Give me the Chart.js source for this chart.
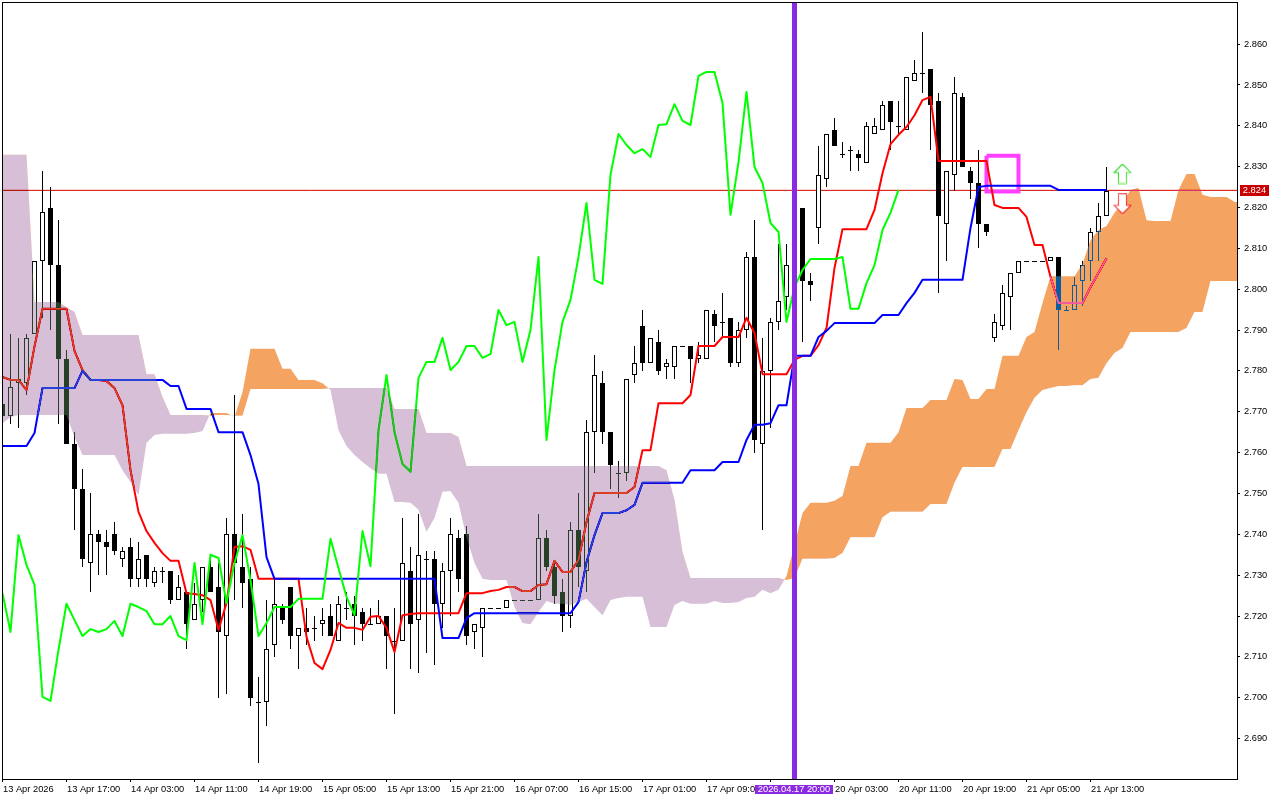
<!DOCTYPE html>
<html>
<head>
<meta charset="utf-8">
<title>Ichimoku chart</title>
<script src="https://cdn.jsdelivr.net/npm/chart.js@4"></script>
<style>
  html, body { margin: 0; padding: 0; background: #fff; }
  canvas { display: block; }
</style>
</head>
<body>
<canvas id="myChart" width="1280" height="800"></canvas>
<script>
const openVals = [
  2.772,2.769,2.777,2.777,2.789,2.807,2.820,2.806,2.783,2.762,
  2.751,2.733,2.740,2.738,2.740,2.734,2.737,2.729,2.735,2.728,
  2.731,2.731,2.724,2.726,2.719,2.724,2.732,2.727,2.715,2.740,
  2.732,2.729,2.699,2.699,2.713,2.722,2.727,2.715,2.717,2.717,
  2.718,2.720,2.714,2.722,2.723,2.721,2.718,2.718,2.720,2.714,
  2.714,2.731,2.719,2.734,2.734,2.723,2.731,2.739,2.740,2.716,
  2.717,2.722,2.722,2.722,2.724,2.724,2.724,2.724,2.739,2.732,
  2.726,2.720,2.741,2.731,2.765,2.777,2.765,2.755,2.755,2.779,
  2.791,2.782,2.787,2.781,2.781,2.786,2.786,2.783,2.783,2.794,
  2.792,2.793,2.782,2.790,2.808,2.762,2.780,2.792,2.798,2.806,
  2.820,2.802,2.815,2.827,2.839,2.833,2.834,2.833,2.831,2.838,
  2.839,2.846,2.840,2.839,2.851,2.853,2.854,2.846,2.816,2.828,
  2.847,2.829,2.826,2.816,2.788,2.791,2.798,2.804,2.807,2.807,
  2.807,2.807,2.808,2.795,2.795,2.802,2.807,2.814,2.818
];
const highVals = [
  2.774,2.789,2.788,2.789,2.807,2.829,2.825,2.817,2.785,2.765,
  2.756,2.750,2.741,2.741,2.743,2.737,2.739,2.738,2.735,2.732,
  2.732,2.731,2.730,2.726,2.728,2.732,2.735,2.733,2.744,2.774,
  2.745,2.732,2.705,2.724,2.729,2.723,2.727,2.717,2.722,2.720,
  2.722,2.723,2.725,2.726,2.725,2.722,2.722,2.724,2.720,2.722,
  2.744,2.737,2.745,2.736,2.736,2.733,2.744,2.741,2.742,2.718,
  2.722,2.722,2.722,2.724,2.724,2.724,2.724,2.745,2.741,2.733,
  2.729,2.743,2.750,2.768,2.784,2.780,2.765,2.758,2.778,2.786,
  2.795,2.788,2.790,2.783,2.786,2.786,2.786,2.787,2.795,2.795,
  2.799,2.793,2.792,2.809,2.817,2.788,2.793,2.811,2.811,2.820,
  2.820,2.804,2.835,2.838,2.842,2.836,2.835,2.834,2.841,2.842,
  2.846,2.846,2.846,2.852,2.856,2.863,2.854,2.848,2.829,2.852,
  2.848,2.830,2.834,2.816,2.794,2.801,2.804,2.807,2.807,2.807,
  2.807,2.808,2.808,2.796,2.803,2.807,2.815,2.821,2.830
];
const lowVals = [
  2.767,2.767,2.766,2.774,2.789,2.793,2.790,2.767,2.762,2.741,
  2.732,2.726,2.730,2.730,2.735,2.732,2.727,2.727,2.727,2.727,
  2.728,2.723,2.724,2.712,2.719,2.721,2.726,2.700,2.701,2.724,
  2.722,2.698,2.684,2.693,2.710,2.718,2.712,2.707,2.713,2.714,
  2.715,2.715,2.714,2.719,2.713,2.714,2.718,2.718,2.707,2.696,
  2.714,2.707,2.706,2.711,2.708,2.717,2.720,2.726,2.713,2.712,
  2.710,2.722,2.722,2.722,2.724,2.724,2.724,2.724,2.731,2.723,
  2.716,2.717,2.727,2.726,2.755,2.762,2.751,2.749,2.753,2.777,
  2.780,2.782,2.779,2.778,2.778,2.786,2.777,2.782,2.783,2.787,
  2.788,2.781,2.781,2.788,2.760,2.741,2.766,2.790,2.795,2.795,
  2.787,2.797,2.811,2.825,2.835,2.832,2.829,2.829,2.831,2.838,
  2.839,2.834,2.838,2.839,2.851,2.848,2.834,2.799,2.807,2.824,
  2.830,2.822,2.810,2.813,2.787,2.790,2.790,2.804,2.807,2.807,
  2.807,2.807,2.785,2.795,2.795,2.796,2.802,2.807,2.818
];
const closeVals = [
  2.769,2.776,2.778,2.788,2.807,2.819,2.806,2.783,2.762,2.751,
  2.734,2.740,2.738,2.737,2.736,2.736,2.729,2.734,2.729,2.731,
  2.731,2.724,2.727,2.718,2.723,2.732,2.726,2.716,2.740,2.733,
  2.728,2.700,2.699,2.712,2.723,2.719,2.715,2.717,2.716,2.717,
  2.719,2.715,2.723,2.722,2.720,2.718,2.718,2.720,2.715,2.714,
  2.733,2.718,2.735,2.734,2.723,2.731,2.740,2.729,2.715,2.718,
  2.722,2.722,2.722,2.724,2.724,2.724,2.724,2.739,2.732,2.725,
  2.720,2.741,2.732,2.765,2.779,2.765,2.757,2.755,2.778,2.782,
  2.782,2.788,2.780,2.782,2.786,2.786,2.783,2.784,2.795,2.791,
  2.792,2.782,2.790,2.808,2.763,2.780,2.792,2.797,2.806,2.806,
  2.802,2.801,2.828,2.838,2.835,2.833,2.834,2.832,2.840,2.840,
  2.845,2.841,2.840,2.852,2.853,2.853,2.845,2.818,2.829,2.848,
  2.830,2.826,2.816,2.814,2.792,2.799,2.804,2.807,2.807,2.807,
  2.807,2.808,2.795,2.795,2.801,2.806,2.814,2.818,2.824
];

const tenkan = [
  2.7785,2.7778,2.7778,2.7753,2.7860,2.7952,2.7952,2.7952,2.7952,2.7849,
  2.7802,2.7778,2.7778,2.7775,2.7758,2.7716,2.7557,2.7455,2.7408,2.7379,
  2.7354,2.7335,2.7335,2.7256,2.7254,2.7251,2.7239,2.7166,2.7232,2.7369,
  2.7371,2.7362,2.7291,2.7291,2.7291,2.7291,2.7291,2.7291,2.7149,2.7085,
  2.7070,2.7117,2.7183,2.7171,2.7171,2.7166,2.7198,2.7200,2.7171,2.7112,
  2.7202,2.7205,2.7207,2.7207,2.7207,2.7207,2.7207,2.7207,2.7256,2.7256,
  2.7256,2.7261,2.7264,2.7271,2.7271,2.7261,2.7261,2.7276,2.7278,2.7335,
  2.7308,2.7308,2.7337,2.7430,2.7501,2.7501,2.7501,2.7501,2.7501,2.7516,
  2.7606,2.7606,2.7721,2.7721,2.7721,2.7721,2.7741,2.7861,2.7861,2.7861,
  2.7883,2.7883,2.7883,2.7930,2.7893,2.7792,2.7792,2.7792,2.7792,2.7827,
  2.7837,2.7837,2.7863,2.7905,2.8052,2.8147,2.8147,2.8147,2.8147,2.8194,
  2.8284,2.8355,2.8378,2.8397,2.8426,2.8463,2.8471,2.8314,2.8314,2.8314,
  2.8314,2.8314,2.8314,2.8314,2.8206,2.8199,2.8199,2.8199,2.8177,2.8108,
  2.8108,2.8030,2.7966,2.7966,2.7966,2.7966,2.8005,2.8040,2.8076
];
const kijun = [
  2.7616,2.7616,2.7616,2.7616,2.7648,2.7758,2.7758,2.7758,2.7758,2.7758,
  2.7800,2.7778,2.7778,2.7778,2.7778,2.7778,2.7778,2.7778,2.7778,2.7778,
  2.7778,2.7763,2.7763,2.7707,2.7707,2.7707,2.7707,2.7650,2.7650,2.7650,
  2.7650,2.7594,2.7523,2.7344,2.7291,2.7291,2.7291,2.7291,2.7291,2.7291,
  2.7291,2.7291,2.7291,2.7291,2.7291,2.7291,2.7291,2.7291,2.7291,2.7291,
  2.7291,2.7291,2.7291,2.7291,2.7291,2.7146,2.7146,2.7146,2.7195,2.7207,
  2.7207,2.7207,2.7207,2.7207,2.7207,2.7207,2.7207,2.7207,2.7207,2.7207,
  2.7207,2.7207,2.7234,2.7332,2.7398,2.7452,2.7452,2.7452,2.7459,2.7472,
  2.7526,2.7526,2.7526,2.7526,2.7526,2.7526,2.7557,2.7557,2.7557,2.7557,
  2.7577,2.7577,2.7577,2.7631,2.7668,2.7668,2.7672,2.7716,2.7716,2.7837,
  2.7837,2.7837,2.7883,2.7898,2.7917,2.7917,2.7917,2.7917,2.7917,2.7917,
  2.7937,2.7937,2.7937,2.7966,2.7991,2.8023,2.8023,2.8023,2.8023,2.8023,
  2.8023,2.8150,2.8250,2.8253,2.8253,2.8253,2.8253,2.8253,2.8253,2.8253,
  2.8253,2.8253,2.8243,2.8243,2.8243,2.8243,2.8243,2.8243,2.8243
];
const chikou = [
  2.7256,2.7161,2.7398,2.7325,2.7276,2.7002,2.6992,2.7117,2.7230,2.7190,
  2.7151,2.7168,2.7161,2.7168,2.7188,2.7151,2.7230,2.7222,2.7212,2.7180,
  2.7180,2.7200,2.7151,2.7141,2.7330,2.7180,2.7350,2.7342,2.7232,2.7330,
  2.7398,2.7288,2.7151,2.7183,2.7222,2.7222,2.7222,2.7242,2.7242,2.7242,
  2.7242,2.7389,2.7317,2.7247,2.7202,2.7408,2.7322,2.7655,2.7790,2.7650,
  2.7572,2.7553,2.7783,2.7822,2.7822,2.7881,2.7802,2.7822,2.7861,2.7861,
  2.7832,2.7841,2.7949,2.7912,2.7920,2.7822,2.7900,2.8079,2.7631,2.7802,
  2.7920,2.7974,2.8079,2.8211,2.8023,2.8013,2.8280,2.8380,2.8353,2.8333,
  2.8343,2.8324,2.8402,2.8404,2.8453,2.8412,2.8402,2.8522,2.8532,2.8532,
  2.8456,2.8182,2.8311,2.8483,2.8299,2.8260,2.8162,2.8140,2.7920,2.8005,
  2.8047,2.8074,2.8074,2.8074,2.8074,2.8079,2.7952,2.7952,2.8015,2.8059,
  2.8145,2.8187,2.8243
];
const spanA = [
  2.7672,2.7687,2.7692,2.7692,2.7692,2.7692,2.7692,2.7692,2.7692,2.7638,
  2.7594,2.7594,2.7594,2.7594,2.7594,2.7557,2.7528,2.7496,2.7624,2.7643,
  2.7646,2.7646,2.7646,2.7646,2.7648,2.7653,2.7697,2.7697,2.7697,2.7687,
  2.7748,2.7854,2.7854,2.7854,2.7854,2.7805,2.7805,2.7778,2.7778,2.7778,
  2.7770,2.7753,2.7655,2.7616,2.7594,2.7577,2.7562,2.7548,2.7548,2.7479,
  2.7479,2.7477,2.7460,2.7406,2.7440,2.7504,2.7506,2.7477,2.7393,2.7330,
  2.7291,2.7288,2.7288,2.7288,2.7222,2.7183,2.7180,2.7210,2.7237,2.7230,
  2.7230,2.7227,2.7234,2.7242,2.7222,2.7202,2.7239,2.7244,2.7247,2.7247,
  2.7247,2.7173,2.7173,2.7173,2.7227,2.7237,2.7230,2.7230,2.7230,2.7237,
  2.7232,2.7232,2.7234,2.7244,2.7247,2.7264,2.7256,2.7264,2.7298,2.7374,
  2.7452,2.7477,2.7477,2.7477,2.7482,2.7494,2.7567,2.7567,2.7624,2.7624,
  2.7624,2.7624,2.7650,2.7709,2.7709,2.7709,2.7729,2.7729,2.7729,2.7780,
  2.7778,2.7731,2.7731,2.7756,2.7756,2.7837,2.7837,2.7837,2.7883,2.7895,
  2.7966,2.8032,2.8032,2.8032,2.8032,2.8062,2.8120,2.8145,2.8155,2.8187,
  2.8211,2.8243,2.8248,2.8169,2.8167,2.8167,2.8167,2.8243,2.8282,2.8282,
  2.8231,2.8226,2.8226,2.8226,2.8214,2.8211
];
const spanB = [
  2.8329,2.8329,2.8329,2.8329,2.7969,2.7969,2.7969,2.7969,2.7956,2.7944,
  2.7888,2.7888,2.7888,2.7888,2.7888,2.7888,2.7888,2.7888,2.7792,2.7792,
  2.7736,2.7692,2.7692,2.7692,2.7692,2.7692,2.7690,2.7692,2.7692,2.7690,
  2.7690,2.7756,2.7756,2.7756,2.7756,2.7756,2.7756,2.7756,2.7756,2.7756,
  2.7756,2.7758,2.7758,2.7758,2.7758,2.7758,2.7758,2.7758,2.7758,2.7707,
  2.7707,2.7707,2.7707,2.7648,2.7648,2.7648,2.7648,2.7638,2.7567,2.7567,
  2.7567,2.7567,2.7567,2.7567,2.7567,2.7567,2.7567,2.7567,2.7567,2.7567,
  2.7567,2.7567,2.7567,2.7567,2.7567,2.7567,2.7567,2.7567,2.7567,2.7567,
  2.7567,2.7567,2.7567,2.7557,2.7484,2.7357,2.7293,2.7293,2.7293,2.7293,
  2.7293,2.7293,2.7293,2.7293,2.7293,2.7293,2.7293,2.7293,2.7288,2.7293,
  2.7340,2.7340,2.7340,2.7340,2.7342,2.7354,2.7393,2.7393,2.7393,2.7393,
  2.7442,2.7455,2.7455,2.7455,2.7455,2.7455,2.7474,2.7474,2.7474,2.7526,
  2.7565,2.7565,2.7565,2.7565,2.7565,2.7609,2.7609,2.7655,2.7699,2.7734,
  2.7753,2.7758,2.7763,2.7763,2.7765,2.7765,2.7780,2.7783,2.7819,2.7844,
  2.7856,2.7895,2.7895,2.7895,2.7895,2.7895,2.7895,2.7895,2.7905,2.7944,
  2.7944,2.8020,2.8020,2.8020,2.8020,2.8020
];

const yTickValues = [2.69,2.70,2.71,2.72,2.73,2.74,2.75,2.76,2.77,2.78,2.79,2.80,2.81,2.82,2.83,2.84,2.85,2.86];
const xTickIndex = [0,8,16,24,32,40,48,56,64,72,80,88,96,104,112,120,128,136];
const xTickLabels = [
  '13 Apr 2026','13 Apr 17:00','14 Apr 03:00','14 Apr 11:00','14 Apr 19:00','15 Apr 05:00',
  '15 Apr 13:00','15 Apr 21:00','16 Apr 07:00','16 Apr 15:00','17 Apr 01:00','17 Apr 09:00',
  '17 Apr 17:00','20 Apr 03:00','20 Apr 11:00','20 Apr 19:00','21 Apr 05:00','21 Apr 13:00'
];
const yMin = 2.6801, yMax = 2.87031;
const xMin = -0.0625, xMax = 154.3125;

const bidPrice = 2.8242;
const markerIndex = 99;
const markerLabel = '2026.04.17 20:00';
const boxIndex = [123,127,127,123,123];
const boxPrice = [2.8327,2.8327,2.8239,2.8239,2.8327];
const arrowIndex = 140;
const arrowUpPrice = 2.8282;
const arrowDownPrice = 2.8209;

const UI_FONT = '"Liberation Sans", Arial, sans-serif';
const FONT_SIZE = 9.3;

// cloud is painted with 'difference', so these are the inverse of sandybrown / thistle
const CLOUD_UP = '#0b5b9f';
const CLOUD_DOWN = '#274027';
const PURPLE = '#8a2be2';

const series = arr => arr.map((y, i) => ({ x: i, y }));

function arrowIcon(up) {
  const c = document.createElement('canvas');
  c.width = 19; c.height = 21;
  const g = c.getContext('2d');
  const grad = g.createLinearGradient(0, 0, 19, 21);
  if (up) { grad.addColorStop(0, '#10d010'); grad.addColorStop(1, '#90ee70'); }
  else { grad.addColorStop(0, '#ff8080'); grad.addColorStop(1, '#f01010'); }
  const pts = up
    ? [[9.5,.5],[18,9],[13.5,9],[13.5,20],[5.5,20],[5.5,9],[1,9]]
    : [[5.5,.5],[13.5,.5],[13.5,12],[18,12],[9.5,20.5],[1,12],[5.5,12]];
  g.beginPath();
  pts.forEach((p, i) => i ? g.lineTo(p[0], p[1]) : g.moveTo(p[0], p[1]));
  g.closePath();
  g.fillStyle = '#fff';
  g.fill();
  g.strokeStyle = grad;
  g.lineWidth = 1.2;
  g.stroke();
  return c;
}

const lineDefaults = { type: 'line', pointRadius: 0, tension: 0, fill: false, borderJoinStyle: 'round' };

const datasets = [
  { ...lineDefaults, label: 'bid', data: [{x: xMin, y: bidPrice}, {x: xMax, y: bidPrice}], borderColor: '#d60000', borderWidth: 1, order: 20 },
  { ...lineDefaults, label: 'box', data: boxIndex.map((x, i) => ({ x, y: boxPrice[i] })), borderColor: '#ff40ff', borderWidth: 4, borderJoinStyle: 'miter', order: 19 },
  {
    type: 'bar', label: 'wicks', order: 18, grouped: false, barThickness: 1, inflateAmount: 0,
    data: lowVals.map((l, i) => ({ x: i, y: [l, highVals[i]] })),
    backgroundColor: '#000', borderWidth: 0
  },
  {
    type: 'bar', label: 'bodies', order: 17, grouped: false, barThickness: 5, inflateAmount: 0,
    data: openVals.map((o, i) => ({ x: i, y: [o, closeVals[i]] })),
    backgroundColor: c => closeVals[c.dataIndex] > openVals[c.dataIndex] ? '#fff' : '#000',
    borderColor: '#000', borderWidth: 1, borderSkipped: false
  },
  { ...lineDefaults, label: 'tenkan', data: series(tenkan), borderColor: '#ff0000', borderWidth: 2, order: 16 },
  { ...lineDefaults, label: 'kijun', data: series(kijun), borderColor: '#0000ff', borderWidth: 2, order: 15 },
  { ...lineDefaults, label: 'spanB', data: series(spanB), borderWidth: 0, order: 14 },
  { ...lineDefaults, label: 'chikou', data: series(chikou), borderColor: '#00ff00', borderWidth: 2, order: 13 },
  {
    ...lineDefaults, label: 'spanA', data: series(spanA), borderWidth: 0, order: 12,
    fill: { target: 6, above: CLOUD_UP, below: CLOUD_DOWN }
  },
  { ...lineDefaults, label: 'marker', data: [{x: markerIndex, y: yMin}, {x: markerIndex, y: yMax}], borderColor: PURPLE, borderWidth: 5, order: 11 },
  {
    ...lineDefaults, label: 'arrowUp', data: [{x: arrowIndex, y: arrowUpPrice}], order: 10,
    pointRadius: 10, pointStyle: arrowIcon(true)
  },
  {
    ...lineDefaults, label: 'arrowDown', data: [{x: arrowIndex, y: arrowDownPrice}], order: 9,
    pointRadius: 10, pointStyle: arrowIcon(false)
  }
];

// candles are pixel snapped like the terminal draws them
const snapBars = {
  id: 'snapBars',
  afterDatasetsUpdate(chart) {
    chart.getSortedVisibleDatasetMetas().forEach(meta => {
      if (meta.type !== 'bar') return;
      meta.data.forEach(el => {
        const top = Math.round(Math.min(el.y, el.base));
        let bottom = Math.round(Math.max(el.y, el.base));
        if (bottom === top) bottom = top + 1;
        el.y = top;
        el.base = bottom;
      });
    });
  }
};

const paper = {
  id: 'paper',
  beforeDraw(chart) {
    const { ctx, width, height } = chart;
    ctx.save();
    ctx.fillStyle = '#fff';
    ctx.fillRect(0, 0, width, height);
    ctx.restore();
  },
  afterDatasetDraw(chart, args) {
    const label = chart.data.datasets[args.index].label;
    if (label === 'chikou') chart.ctx.globalCompositeOperation = 'difference';
    if (label === 'spanA') chart.ctx.globalCompositeOperation = 'source-over';
  },
  afterDraw(chart) {
    const { ctx, chartArea: a, scales } = chart;
    ctx.save();
    ctx.strokeStyle = '#000';
    ctx.lineWidth = 1;
    ctx.strokeRect(a.left + .5, a.top + .5, a.right - a.left, a.bottom - a.top);

    // price tag on the right axis
    const py = Math.round(scales.y.getPixelForValue(bidPrice));
    ctx.fillStyle = '#c80000';
    ctx.fillRect(1240, py - 5, 29, 11);
    ctx.fillStyle = '#fff';
    ctx.font = FONT_SIZE + 'px ' + UI_FONT;
    ctx.textBaseline = 'middle';
    ctx.textAlign = 'center';
    ctx.fillText(bidPrice.toFixed(3), 1254.5, py + .5);

    // time label of the vertical marker
    const mx = scales.x.getPixelForValue(markerIndex);
    ctx.fillStyle = PURPLE;
    ctx.fillRect(mx - 39.5, 785, 78, 9);
    ctx.fillStyle = '#fff';
    ctx.fillText(markerLabel, mx - .5, 789.5);
    ctx.restore();
  }
};

new Chart(document.getElementById('myChart'), {
  type: 'line',
  data: { datasets },
  plugins: [snapBars, paper],
  options: {
    responsive: false,
    animation: false,
    devicePixelRatio: 1,
    layout: { autoPadding: false, padding: { left: 2, top: 2, right: 0, bottom: 0 } },
    plugins: { legend: { display: false }, tooltip: { enabled: false } },
    scales: {
      x: {
        type: 'linear',
        position: 'bottom',
        min: xMin,
        max: xMax,
        offset: false,
        afterFit: s => { s.height = 21; s.paddingLeft = 0; s.paddingRight = 0; },
        afterBuildTicks: s => { s.ticks = xTickIndex.map(value => ({ value })); },
        grid: { drawOnChartArea: false, tickLength: 3, tickColor: '#000', offset: false },
        border: { display: false },
        ticks: {
          autoSkip: false, maxRotation: 0, minRotation: 0, align: 'start', padding: 2, labelOffset: 0.5,
          color: '#000', font: { family: UI_FONT, size: FONT_SIZE },
          callback: (v, i) => xTickLabels[i]
        }
      },
      y: {
        type: 'linear',
        position: 'right',
        min: yMin,
        max: yMax,
        afterFit: s => { s.width = 43; s.paddingTop = 0; s.paddingBottom = 0; },
        afterBuildTicks: s => { s.ticks = yTickValues.map(value => ({ value })); },
        grid: { drawOnChartArea: false, tickLength: 3, tickColor: '#000' },
        border: { display: false },
        ticks: {
          autoSkip: false, padding: 4,
          color: '#000', font: { family: UI_FONT, size: FONT_SIZE },
          callback: v => v.toFixed(3)
        }
      }
    }
  }
});
</script>
</body>
</html>
